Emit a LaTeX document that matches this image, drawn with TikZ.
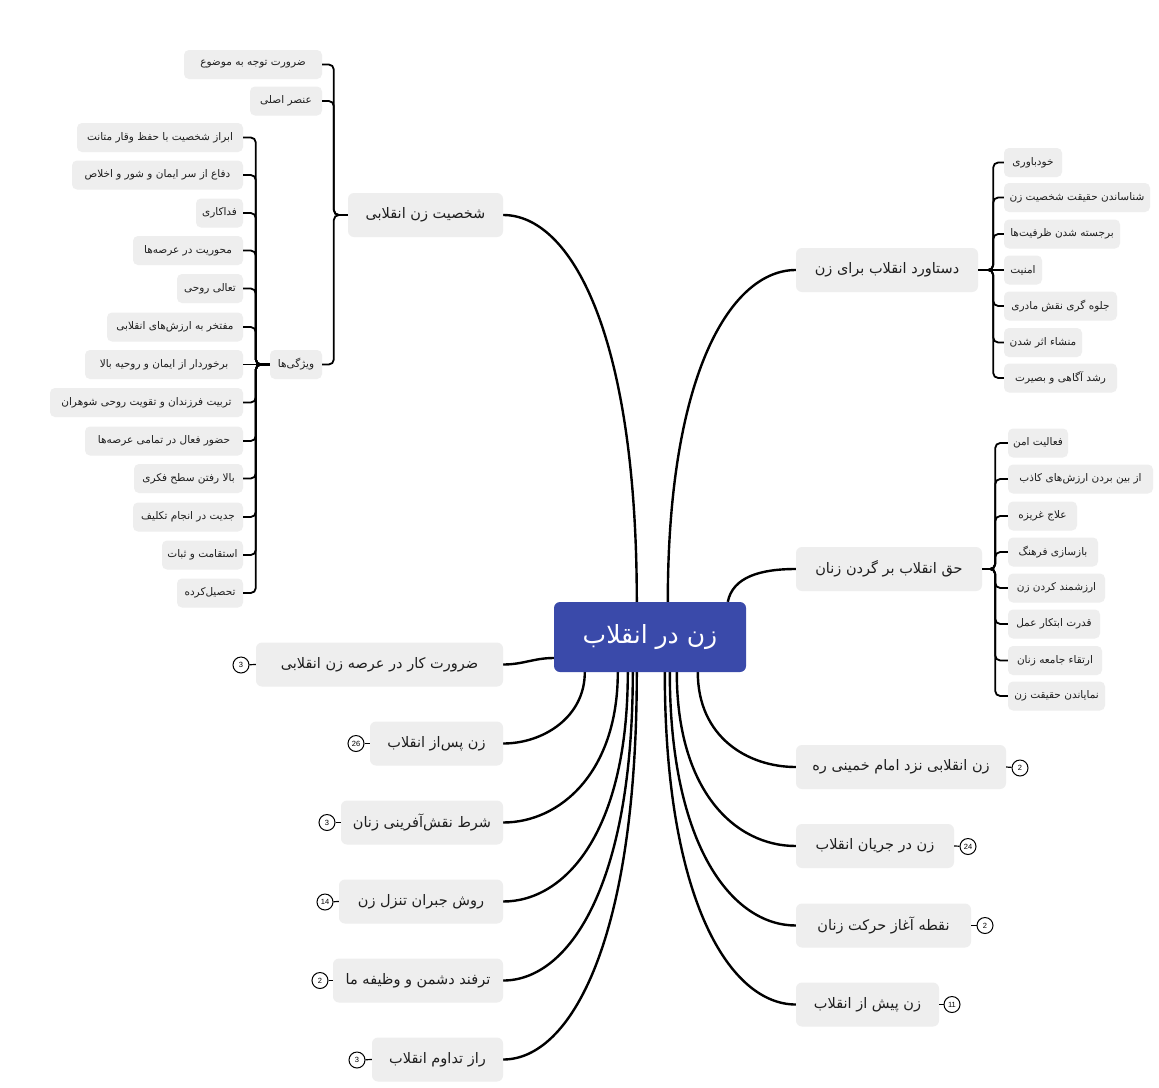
\documentclass[tikz,border=0pt]{standalone}
\usepackage{fontspec}
\newfontfamily\pfont[Script=Arabic]{DejaVu Sans}
\newfontfamily\numfont{Liberation Sans}
\TeXXeTstate=1
\usetikzlibrary{calc,backgrounds}
\definecolor{boxgray}{RGB}{238,238,238}
\definecolor{rootblue}{RGB}{58,74,170}
\definecolor{txtgray}{RGB}{30,30,30}
\newcommand{\fa}[1]{\beginR #1\endR}
\begin{document}
\begin{tikzpicture}[x=1pt,y=-1pt,
  root/.style={rectangle, rounded corners=6pt, fill=rootblue, text=white,
    font=\pfont\fontsize{25}{28}\selectfont, minimum width=192pt, minimum height=70pt, inner sep=0pt},
  topic/.style={rectangle, rounded corners=6pt, fill=boxgray, text=txtgray,
    font=\pfont\fontsize{14.5}{17}\selectfont, minimum height=44pt, inner sep=0pt},
  leaf/.style={rectangle, rounded corners=5pt, fill=boxgray, text=txtgray,
    font=\pfont\fontsize{10.5}{12.5}\selectfont, minimum height=29pt, inner sep=0pt},
  badge/.style={circle, draw=black, line width=1pt, fill=white, minimum size=16pt,
    inner sep=0pt, font=\numfont\fontsize{7.5}{8}\selectfont},
  branch/.style={line width=2.4pt, black},
  bracket/.style={line width=1.8pt, black, rounded corners=5pt},
  badgeline/.style={line width=1.2pt, black}]
\useasboundingbox (0,0) rectangle (1159,1087);

% root
\node[root] (c) at (650,637) {\fa{زن در انقلاب}};

% main topics left
\node[topic, minimum width=155pt] (L1) at (425.5,215) {\fa{شخصیت زن انقلابی}};
\node[topic, minimum width=247pt] (L2) at (379.5,664.5) {\fa{ضرورت کار در عرصه زن انقلابی}};
\node[topic, minimum width=133pt] (L3) at (436.5,743.5) {\fa{زن پس^^^^200cاز انقلاب}};
\node[topic, minimum width=162pt] (L4) at (422,822.5) {\fa{شرط نقش^^^^200cآفرینی زنان}};
\node[topic, minimum width=164pt] (L5) at (421,901.5) {\fa{روش جبران تنزل زن}};
\node[topic, minimum width=170pt] (L6) at (418,980.5) {\fa{ترفند دشمن و وظیفه ما}};
\node[topic, minimum width=131pt] (L7) at (437.5,1059.5) {\fa{راز تداوم انقلاب}};
% main topics right
\node[topic, minimum width=182pt] (R1) at (887,270) {\fa{دستاورد انقلاب برای زن}};
\node[topic, minimum width=186pt] (R2) at (889,569) {\fa{حق انقلاب بر گردن زنان}};
\node[topic, minimum width=210pt] (R3) at (901,767) {\fa{زن انقلابی نزد امام خمینی ره}};
\node[topic, minimum width=158pt] (R4) at (875,846) {\fa{زن در جریان انقلاب}};
\node[topic, minimum width=175pt] (R5) at (883.5,925.5) {\fa{نقطه آغاز حرکت زنان}};
\node[topic, minimum width=143pt] (R6) at (867.5,1004.5) {\fa{زن پیش از انقلاب}};

% badges
\node[badge] (bL2) at (241,665) {3};
\node[badge] (bL3) at (356,743.5) {26};
\node[badge] (bL4) at (327,822.5) {3};
\node[badge] (bL5) at (325,902) {14};
\node[badge] (bL6) at (320,980.5) {2};
\node[badge] (bL7) at (357,1060) {3};
\node[badge] (bR3) at (1020,768) {2};
\node[badge] (bR4) at (968,846.5) {24};
\node[badge] (bR5) at (985,925.5) {2};
\node[badge] (bR6) at (952,1004.5) {11};
\draw[badgeline] (bL2) -- (L2.west);
\draw[badgeline] (bL3) -- (L3.west);
\draw[badgeline] (bL4) -- (L4.west);
\draw[badgeline] (bL5) -- (L5.west);
\draw[badgeline] (bL6) -- (L6.west);
\draw[badgeline] (bL7) -- (L7.west);
\draw[badgeline] (bR3) -- (R3.east);
\draw[badgeline] (bR4) -- (R4.east);
\draw[badgeline] (bR5) -- (R5.east);
\draw[badgeline] (bR6) -- (R6.east);

% children of L1
\node[leaf, minimum width=138pt] (a1) at (253,64.5) {\fa{ضرورت توجه به موضوع}};
\node[leaf, minimum width=72pt] (a2) at (286,101) {\fa{عنصر اصلی}};
\node[leaf, minimum width=52pt] (a3) at (296,364.5) {\fa{ویژگی^^^^200cها}};

% children of a3
\node[leaf, minimum width=166pt] (v1) at (160,137.5) {\fa{ابراز شخصیت با حفظ وقار متانت}};
\node[leaf, minimum width=171pt] (v2) at (157.5,175) {\fa{دفاع از سر ایمان و شور و اخلاص}};
\node[leaf, minimum width=47pt] (v3) at (219.5,213) {\fa{فداکاری}};
\node[leaf, minimum width=110pt] (v4) at (188,250.5) {\fa{محوریت در عرصه^^^^200cها}};
\node[leaf, minimum width=66pt] (v5) at (210,288.5) {\fa{تعالی روحی}};
\node[leaf, minimum width=136pt] (v6) at (175,327) {\fa{مفتخر به ارزش^^^^200cهای انقلابی}};
\node[leaf, minimum width=158pt] (v7) at (164,364.5) {\fa{برخوردار از ایمان و روحیه بالا}};
\node[leaf, minimum width=193pt] (v8) at (146.5,402.5) {\fa{تربیت فرزندان و تقویت روحی شوهران}};
\node[leaf, minimum width=158pt] (v9) at (164,441) {\fa{حضور فعال در تمامی عرصه^^^^200cها}};
\node[leaf, minimum width=109pt] (v10) at (188.5,478.5) {\fa{بالا رفتن سطح فکری}};
\node[leaf, minimum width=110pt] (v11) at (188,517) {\fa{جدیت در انجام تکلیف}};
\node[leaf, minimum width=81pt] (v12) at (202.5,555) {\fa{استقامت و ثبات}};
\node[leaf, minimum width=66pt] (v13) at (210,593) {\fa{تحصیل^^^^200cکرده}};

% children of R1
\node[leaf, minimum width=58pt] (d1) at (1033,162.5) {\fa{خودباوری}};
\node[leaf, minimum width=146pt] (d2) at (1077,197.5) {\fa{شناساندن حقیقت شخصیت زن}};
\node[leaf, minimum width=116pt] (d3) at (1062,234) {\fa{برجسته شدن ظرفیت^^^^200cها}};
\node[leaf, minimum width=38pt] (d4) at (1023,270) {\fa{امنیت}};
\node[leaf, minimum width=113pt] (d5) at (1060.5,306) {\fa{جلوه گری نقش مادری}};
\node[leaf, minimum width=78pt] (d6) at (1043,342.5) {\fa{منشاء اثر شدن}};
\node[leaf, minimum width=113pt] (d7) at (1060.5,378) {\fa{رشد آگاهی و بصیرت}};

% children of R2
\node[leaf, minimum width=60pt] (h1) at (1038,443) {\fa{فعالیت امن}};
\node[leaf, minimum width=145pt] (h2) at (1080.5,479) {\fa{از بین بردن ارزش^^^^200cهای کاذب}};
\node[leaf, minimum width=69pt] (h3) at (1042.5,516) {\fa{علاج غریزه}};
\node[leaf, minimum width=90pt] (h4) at (1053,552) {\fa{بازسازی فرهنگ}};
\node[leaf, minimum width=97pt] (h5) at (1056.5,588) {\fa{ارزشمند کردن زن}};
\node[leaf, minimum width=92pt] (h6) at (1054,624) {\fa{قدرت ابتکار عمل}};
\node[leaf, minimum width=94pt] (h7) at (1055,660.5) {\fa{ارتقاء جامعه زنان}};
\node[leaf, minimum width=97pt] (h8) at (1056.5,696) {\fa{نمایاندن حقیقت زن}};

% brackets
\foreach \n in {a1,a2,a3} \draw[bracket] (L1.west) -- ++(-14,0) |- (\n.east);
\foreach \n in {v1,v2,v3,v4,v5,v6,v8,v9,v10,v11,v12,v13} \draw[bracket] (a3.west) -- ++(-14,0) |- (\n.east);
\draw[bracket] (a3.west) -- (v7.east);
\foreach \n in {d1,d2,d3,d5,d6,d7} \draw[bracket] (R1.east) -- ++(15,0) |- (\n.west);
\draw[bracket] (R1.east) -- (d4.west);
\foreach \n in {h1,h2,h3,h4,h5,h6,h7,h8} \draw[bracket] (R2.east) -- ++(13,0) |- (\n.west);

% branches from root
\begin{pgfonlayer}{background}
\fill[white] (0,0) rectangle (1159,1087);
\coordinate (sL1) at ($(c.north west)+(83,0)$);
\coordinate (sR1) at ($(c.north west)+(114,0)$);
\coordinate (sR2) at ($(c.north west)+(174,0)$);
\coordinate (sL2) at ($(c.west)+(0,21)$);
\coordinate (sL3) at ($(c.south west)+(31,0)$);
\coordinate (sL4) at ($(c.south west)+(64,0)$);
\coordinate (sL5) at ($(c.south west)+(74,0)$);
\coordinate (sL6) at ($(c.south west)+(79,0)$);
\coordinate (sL7) at ($(c.south west)+(83,0)$);
\coordinate (sR6) at ($(c.south west)+(111,0)$);
\coordinate (sR5) at ($(c.south west)+(116,0)$);
\coordinate (sR4) at ($(c.south west)+(123,0)$);
\coordinate (sR3) at ($(c.south west)+(144,0)$);
\draw[branch] (sL1) .. controls +(0,-270) and +(67,0) .. (L1.east);
\draw[branch] (sR1) .. controls +(0,-230) and +(-64,0) .. (R1.west);
\draw[branch] (sR2) .. controls +(5,-25) and +(-35,0) .. (R2.west);
\draw[branch] (sL2) .. controls +(-20,0) and +(20,0) .. (L2.east);
\draw[branch] (sL3) .. controls +(0,45) and +(40,0) .. (L3.east);
\draw[branch] (sL4) .. controls +(0,100) and +(57,0) .. (L4.east);
\draw[branch] (sL5) .. controls +(0,160) and +(62,0) .. (L5.east);
\draw[branch] (sL6) .. controls +(0,215) and +(65,0) .. (L6.east);
\draw[branch] (sL7) .. controls +(0,270) and +(67,0) .. (L7.east);
\draw[branch] (sR3) .. controls +(0,65) and +(-48,0) .. (R3.west);
\draw[branch] (sR4) .. controls +(0,120) and +(-60,0) .. (R4.west);
\draw[branch] (sR5) .. controls +(0,175) and +(-63,0) .. (R5.west);
\draw[branch] (sR6) .. controls +(0,230) and +(-65,0) .. (R6.west);
\end{pgfonlayer}
\end{tikzpicture}
\end{document}
